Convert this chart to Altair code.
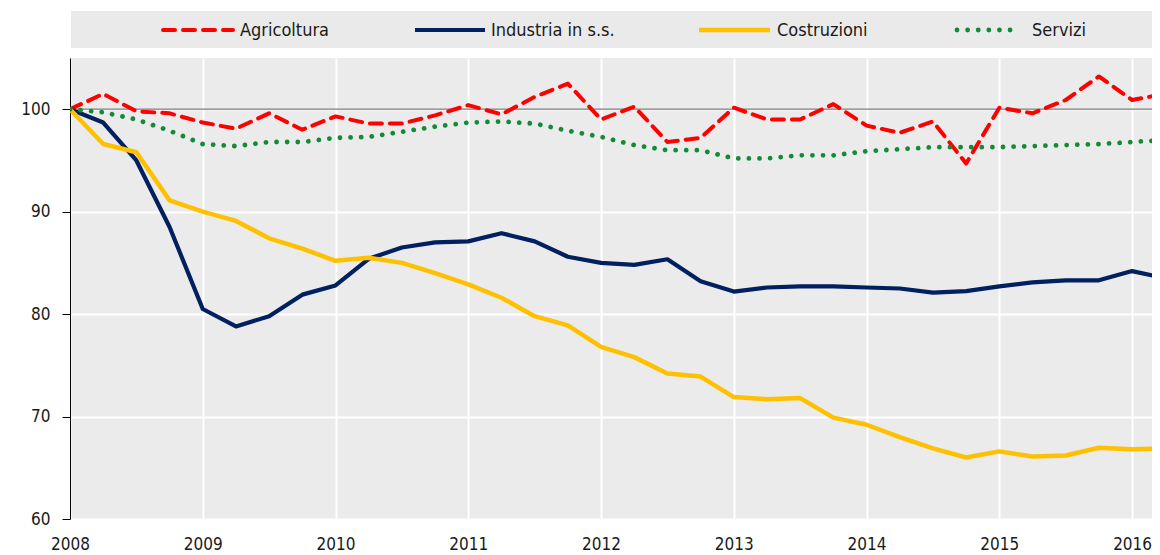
import altair as alt
import pandas as pd

FONT = "DejaVu Sans Condensed, Liberation Sans Narrow, sans-serif"
FS = 17

years = [2008, 2009, 2010, 2011, 2012, 2013, 2014, 2015, 2016]
quarters = [y + q / 4 for y in range(2008, 2017) for q in range(4)][:34]

series = ["Agricoltura", "Industria in s.s.", "Costruzioni", "Servizi"]
colors = ["#FF0000", "#002060", "#FFC000", "#138A36"]

agricoltura = [100, 101.5, 99.8, 99.6, 98.7, 98.1, 99.6, 98.0, 99.3, 98.6, 98.6, 99.4,
               100.4, 99.5, 101.2, 102.5, 99.0, 100.25, 96.8, 97.2, 100.15, 99.0, 99.0, 100.5,
               98.4, 97.7, 98.8, 94.7, 100.15, 99.6, 100.9, 103.2, 100.9, 101.5]
industria = [100, 98.7, 95.0, 88.5, 80.5, 78.8, 79.8, 81.9, 82.8, 85.4, 86.5, 87.0,
             87.1, 87.9, 87.1, 85.6, 85.0, 84.8, 85.35, 83.2, 82.2, 82.6, 82.7, 82.7,
             82.6, 82.5, 82.1, 82.25, 82.7, 83.1, 83.3, 83.3, 84.2, 83.5]
costruzioni = [100, 96.6, 95.8, 91.1, 90.0, 89.1, 87.4, 86.4, 85.2, 85.5, 85.0, 84.0,
               82.9, 81.6, 79.8, 78.9, 76.8, 75.8, 74.2, 73.9, 71.9, 71.7, 71.8, 69.9,
               69.2, 68.0, 66.9, 66.0, 66.6, 66.1, 66.2, 66.95, 66.8, 66.9]
servizi = [100, 99.7, 99.0, 97.9, 96.6, 96.4, 96.8, 96.8, 97.2, 97.3, 97.8, 98.3,
           98.7, 98.8, 98.6, 97.9, 97.3, 96.5, 96.0, 96.0, 95.2, 95.2, 95.5, 95.5,
           95.9, 96.1, 96.3, 96.3, 96.3, 96.4, 96.5, 96.6, 96.8, 97.0]

y_ticks = [60, 70, 80, 90, 100]

values = [agricoltura, industria, costruzioni, servizi]
rows = []
for name, vals in zip(series, values):
    for t, v in zip(quarters, vals):
        rows.append({"name": name, "t": t, "v": v})
df = pd.DataFrame(rows)

W, H = 1082, 461

x_enc = alt.X("t:Q", scale=alt.Scale(domain=[2008, 2016.15], nice=False, zero=False),
              axis=alt.Axis(values=years, format="d", title=None, domain=False, ticks=False,
                            grid=True, gridColor="white", gridWidth=2,
                            labelFontSize=FS, labelPadding=17, labelFont=FONT,
                            labelColor="#1a1a1a", labelFlush=False))
y_enc = alt.Y("v:Q", scale=alt.Scale(domain=[60, 105], nice=False, zero=False),
              axis=alt.Axis(values=y_ticks, title=None, domain=True, domainColor="#000000",
                            domainWidth=1, ticks=True, tickColor="#000000", tickSize=8,
                            labelPadding=12, grid=True, gridColor="white", gridWidth=2,
                            labelFontSize=FS, labelFont=FONT, labelColor="#1a1a1a"))

styles = {
    "Agricoltura": dict(strokeWidth=4, strokeDash=[12, 8], strokeCap="round"),
    "Industria in s.s.": dict(strokeWidth=4.2, strokeCap="butt"),
    "Costruzioni": dict(strokeWidth=4.5, strokeCap="butt"),
    "Servizi": dict(strokeWidth=4.8, strokeDash=[0.01, 10.6], strokeCap="round"),
}

ref = alt.Chart(pd.DataFrame({"r": [100]})).mark_rule(color="#7a7a7a", strokeWidth=1.3).encode(
    y=alt.Y("r:Q")
)

layers = [ref]
for name, col in zip(series, colors):
    layers.append(
        alt.Chart(df).transform_filter(alt.datum.name == name)
        .mark_line(color=col, clip=True, strokeJoin="round", **styles[name])
        .encode(x=x_enc, y=y_enc)
    )

# legend box
leg_bg = alt.Chart(pd.DataFrame({"a": [0]})).mark_rect(color="#EAEAEA").encode(
    x=alt.value(1), x2=alt.value(W), y=alt.value(-47), y2=alt.value(-10)
)
layers.append(leg_bg)
sym_x = [(93, 163), (345, 415), (629, 700), (887, 950)]
txt_x = [170, 421, 707, 962]
for name, col, (a, b), tx in zip(series, colors, sym_x, txt_x):
    st = dict(styles[name])
    layers.append(
        alt.Chart(pd.DataFrame({"name": [name]})).mark_rule(color=col, **st).encode(
            x=alt.value(a), x2=alt.value(b), y=alt.value(-28)
        )
    )
    layers.append(
        alt.Chart(pd.DataFrame({"name": [name]})).mark_text(
            align="left", baseline="middle", font=FONT, fontSize=FS + 1, color="#1a1a1a"
        ).encode(x=alt.value(tx), y=alt.value(-27), text="name:N")
    )

chart = alt.layer(*layers).resolve_scale(y="shared").properties(
    width=W, height=H,
    autosize=alt.AutoSizeParams(type="none"),
    padding={"left": 62, "top": 50, "right": 0, "bottom": 36},
    background="white",
).configure_view(fill="#EBEBEB", strokeWidth=0)

chart.save("out.html", embed_options={"renderer": "svg", "actions": False})
